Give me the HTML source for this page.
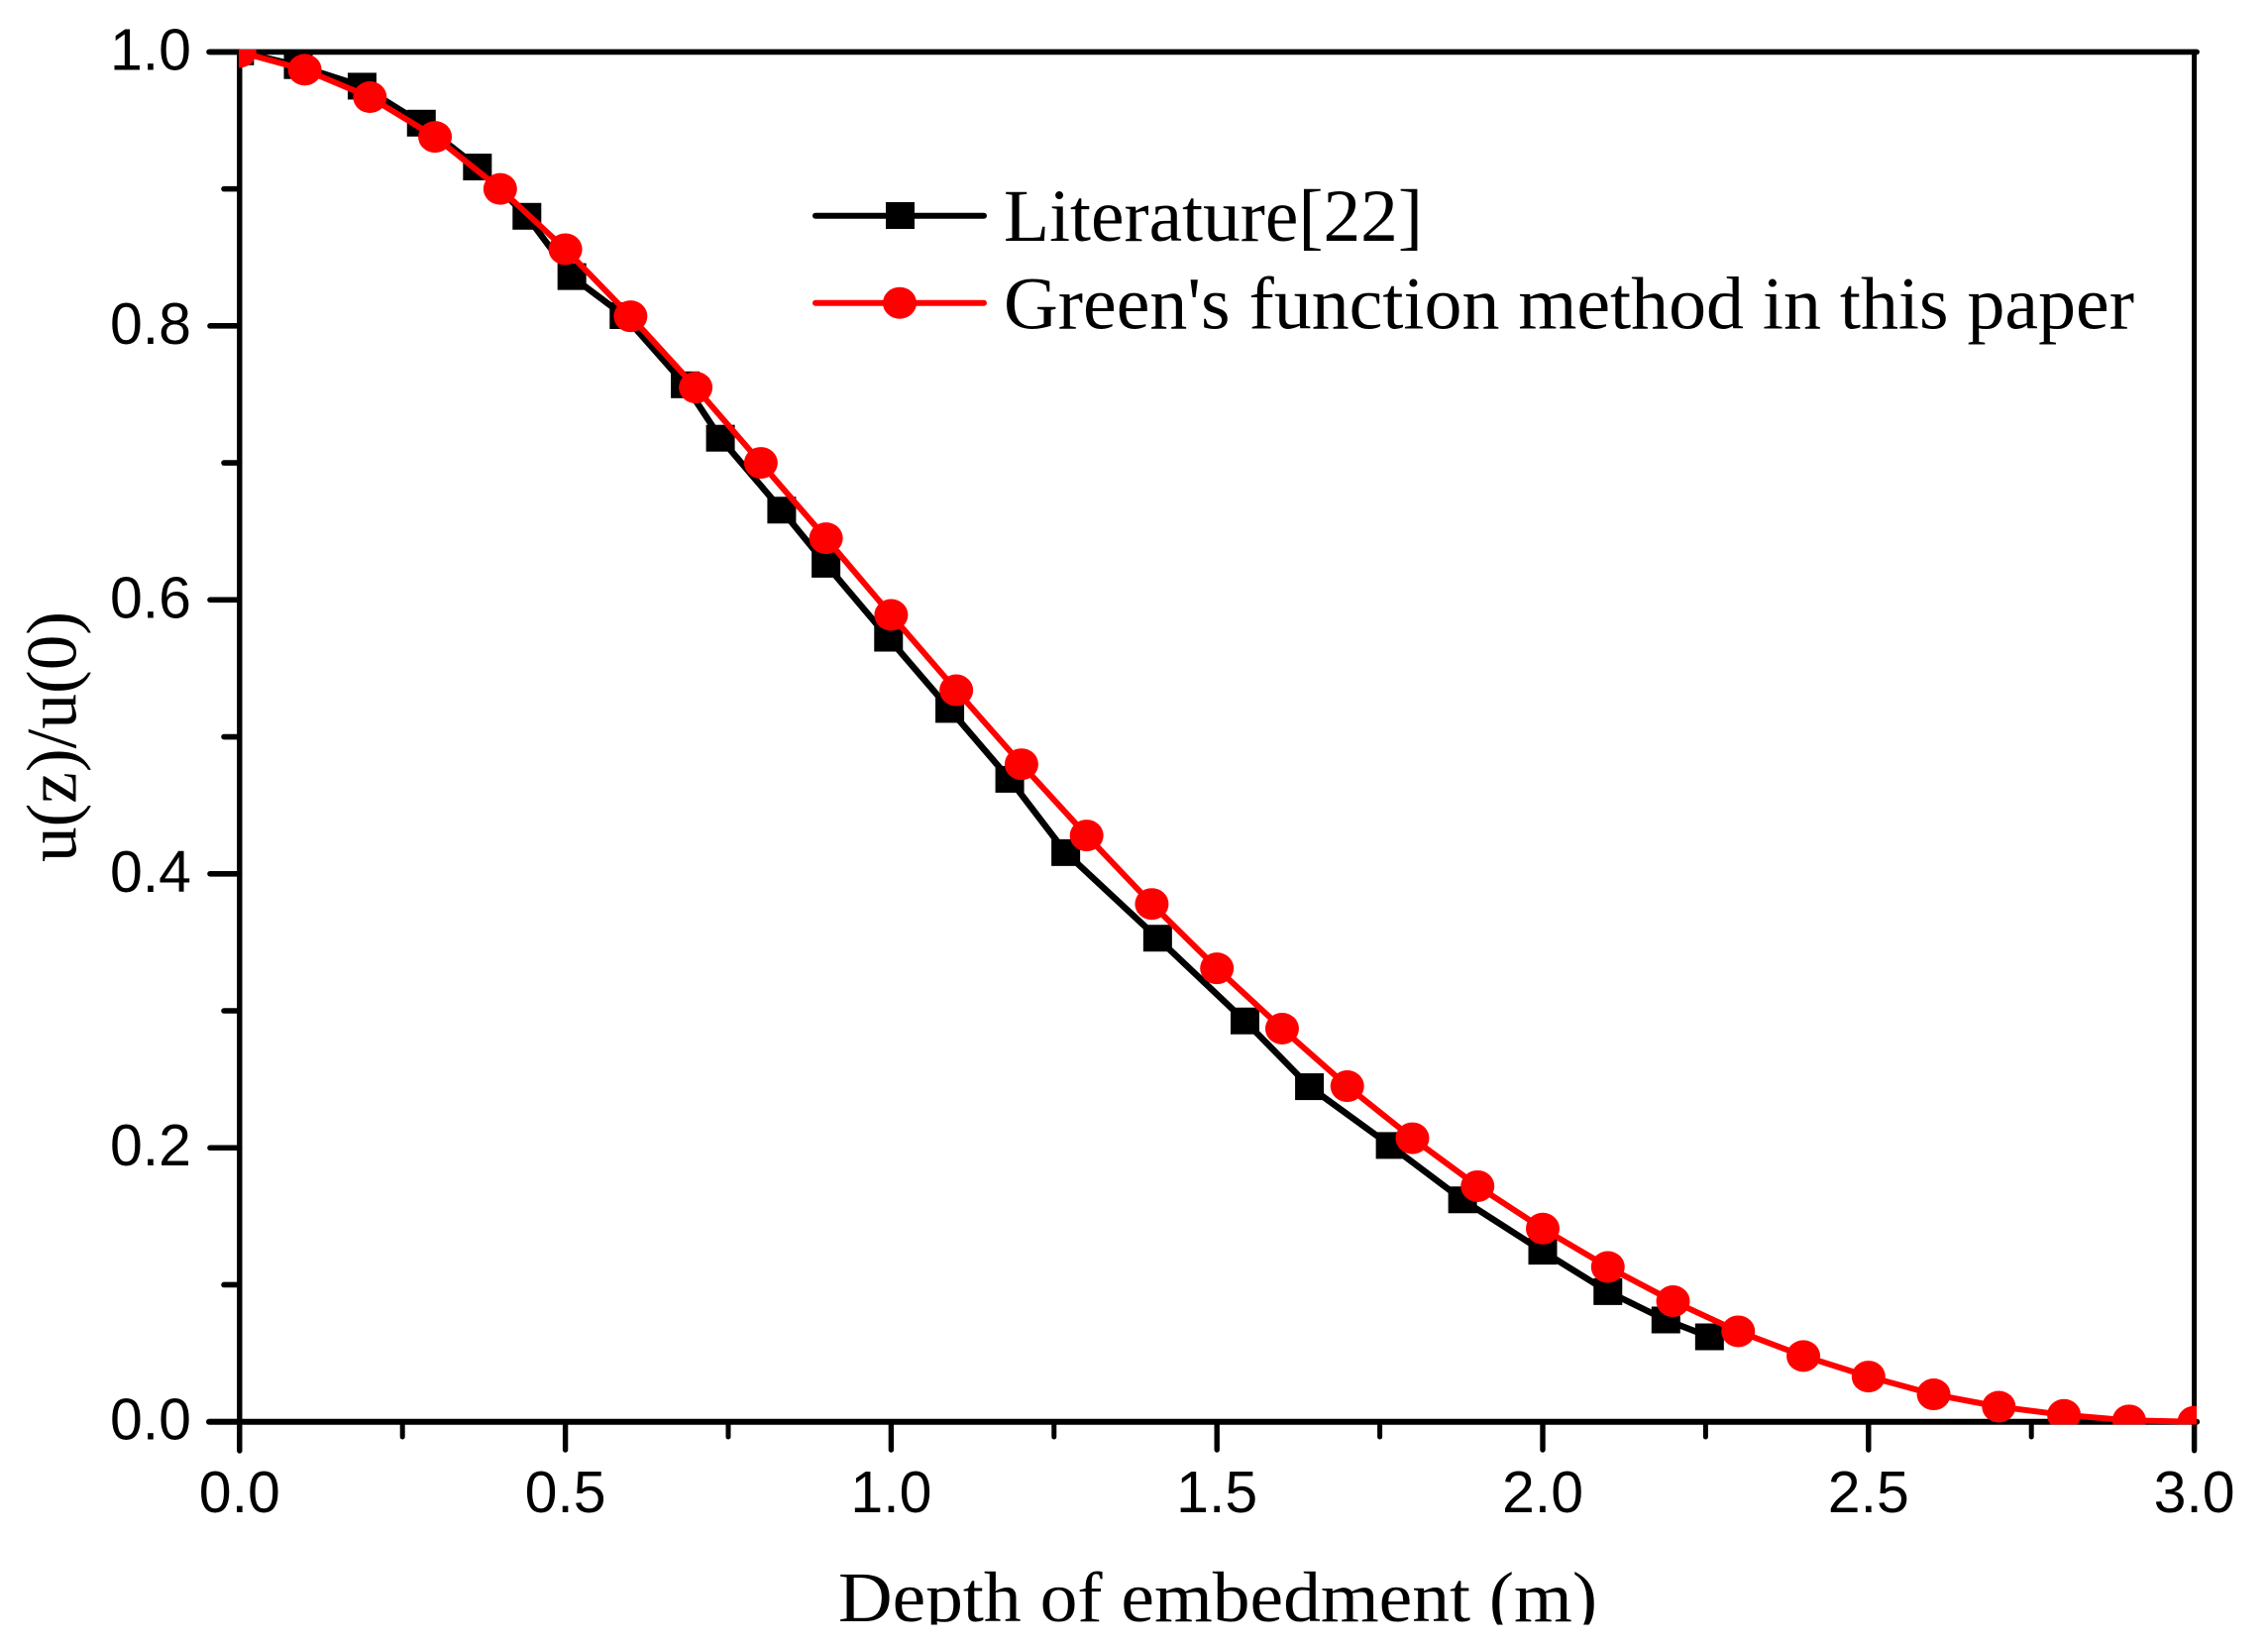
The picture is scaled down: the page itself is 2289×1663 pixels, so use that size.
<!DOCTYPE html>
<html>
<head>
<meta charset="utf-8">
<title>Depth of embedment chart</title>
<style>
html,body{margin:0;padding:0;background:#fff;}
svg{display:block;}
.tick{font-family:"Liberation Sans",sans-serif;font-size:59px;fill:#000;}
.serif{font-family:"Liberation Serif",serif;fill:#000;}
</style>
</head>
<body>
<svg id="chart" xmlns="http://www.w3.org/2000/svg" width="2289" height="1663" viewBox="0 0 2289 1663">
<defs>
<clipPath id="plot-clip"><rect x="241" y="50" width="1976" height="1387.5"></rect></clipPath>
<clipPath id="title-clip"><rect x="700" y="1540" width="1100" height="99.5"></rect></clipPath>
</defs>
<rect x="0" y="0" width="2289" height="1663" fill="#fff"></rect>
<g id="axes"></g>
<g id="series" clip-path="url(#plot-clip)"></g>
<g clip-path="url(#title-clip)">
<text class="serif" x="846" y="1636" font-size="72" textLength="766" lengthAdjust="spacingAndGlyphs">Depth of embedment (m)</text>
</g>
<text class="serif" transform="translate(76.7,870) rotate(-90)" x="0" y="0" font-size="72" textLength="253" lengthAdjust="spacingAndGlyphs">u(z)/u(0)</text>
<g>
<g>
<line x1="823" y1="217.7" x2="993" y2="217.7" stroke="#000" stroke-width="6" stroke-linecap="round"></line>
<rect x="894" y="204" width="29" height="27" fill="#000"></rect>
<text class="serif" x="1013" y="243" font-size="75" textLength="423" lengthAdjust="spacingAndGlyphs">Literature[22]</text>
</g>
<g>
<line x1="823" y1="305.7" x2="993" y2="305.7" stroke="#f00" stroke-width="6" stroke-linecap="round"></line>
<ellipse cx="908" cy="305.7" rx="17" ry="16" fill="#f00"></ellipse>
<text class="serif" x="1013" y="331.7" font-size="75" textLength="1141" lengthAdjust="spacingAndGlyphs">Green's function method in this paper</text>
</g>
</g>
</svg>
<script>
var xTickValues = [0, 0.5, 1, 1.5, 2, 2.5, 3];
var xTickLabels = ["0.0", "0.5", "1.0", "1.5", "2.0", "2.5", "3.0"];
var xMinorTicks = [0.25, 0.75, 1.25, 1.75, 2.25, 2.75];
var yTickValues = [0, 0.2, 0.4, 0.6, 0.8, 1];
var yTickLabels = ["0.0", "0.2", "0.4", "0.6", "0.8", "1.0"];
var yMinorTicks = [0.1, 0.3, 0.5, 0.7, 0.9];

var literatureX = [0, 0.09, 0.188, 0.279, 0.365, 0.441, 0.51, 0.59, 0.684, 0.738, 0.832, 0.9, 0.996, 1.09, 1.182, 1.268, 1.409, 1.543, 1.642, 1.766, 1.877, 2.0, 2.1, 2.189, 2.256];
var literatureY = [1.0, 0.99, 0.975, 0.948, 0.916, 0.88, 0.836, 0.8075, 0.757, 0.718, 0.6655, 0.626, 0.572, 0.52, 0.469, 0.4155, 0.353, 0.2926, 0.2446, 0.2017, 0.162, 0.1245, 0.095, 0.0743, 0.062];

var greenX = [0, 0.1, 0.2, 0.3, 0.4, 0.5, 0.6, 0.7, 0.8, 0.9, 1.0, 1.1, 1.2, 1.3, 1.4, 1.5, 1.6, 1.7, 1.8, 1.9, 2.0, 2.1, 2.2, 2.3, 2.4, 2.5, 2.6, 2.7, 2.8, 2.9, 3.0];
var greenY = [1.0, 0.987, 0.967, 0.938, 0.9, 0.856, 0.807, 0.755, 0.7, 0.645, 0.589, 0.534, 0.48, 0.428, 0.378, 0.331, 0.287, 0.245, 0.207, 0.172, 0.141, 0.113, 0.088, 0.066, 0.048, 0.033, 0.02, 0.011, 0.005, 0.001, 0];

var NS = 'http://www.w3.org/2000/svg';
var xLeft = 241.8, xRight = 2214.6, yBottom = 1434.7, yTop = 52.4;
function xScale(v) { return xLeft + (xRight - xLeft) * v / 3; }
function yScale(v) { return yBottom - (yBottom - yTop) * v; }
function make(tag, attrs, parent) {
  var el = document.createElementNS(NS, tag);
  for (var k in attrs) { el.setAttribute(k, attrs[k]); }
  parent.appendChild(el);
  return el;
}
var axes = document.getElementById('axes');
var series = document.getElementById('series');

var frameTop = make('line', {x1: 211, y1: yTop, x2: xRight + 2.5, y2: yTop, stroke: '#000', 'stroke-width': 5.6, 'stroke-linecap': 'round'}, axes);


var frameRight = make('line', {x1: xRight, y1: yTop, x2: xRight, y2: 1464, stroke: '#000', 'stroke-width': 5, 'stroke-linecap': 'round'}, axes);


var frameLeft = make('line', {x1: xLeft, y1: yTop, x2: xLeft, y2: 1464, stroke: '#000', 'stroke-width': 5.4, 'stroke-linecap': 'round'}, axes);


var frameBottom = make('line', {x1: 211, y1: yBottom, x2: xRight + 2.5, y2: yBottom, stroke: '#000', 'stroke-width': 6, 'stroke-linecap': 'round'}, axes);



xTickValues.forEach(function (v, i) {
  var px = xScale(v);
  var t = make('line', {x1: px, y1: yBottom, x2: px, y2: 1463, stroke: '#000', 'stroke-width': 5.4, 'stroke-linecap': 'round'}, axes);
  
  
  var lab = make('text', {x: px, y: 1526, 'text-anchor': 'middle', 'class': 'tick'}, axes);
  lab.textContent = xTickLabels[i];
  
  
});
xMinorTicks.forEach(function (v) {
  var px = xScale(v);
  var t = make('line', {x1: px, y1: yBottom, x2: px, y2: 1450, stroke: '#000', 'stroke-width': 5, 'stroke-linecap': 'round'}, axes);
  
  
});
yTickValues.forEach(function (v, i) {
  var py = yScale(v);
  var t = make('line', {x1: 212, y1: py, x2: xLeft, y2: py, stroke: '#000', 'stroke-width': 5.6, 'stroke-linecap': 'round'}, axes);
  
  
  var lab = make('text', {x: 193, y: py + 18, 'text-anchor': 'end', 'class': 'tick'}, axes);
  lab.textContent = yTickLabels[i];
  
  
});
yMinorTicks.forEach(function (v) {
  var py = yScale(v);
  var t = make('line', {x1: 226, y1: py, x2: xLeft, y2: py, stroke: '#000', 'stroke-width': 5.6, 'stroke-linecap': 'round'}, axes);
  
  
});

function linePoints(xs, ys) {
  return xs.map(function (v, i) { return xScale(v).toFixed(2) + ',' + yScale(ys[i]).toFixed(2); }).join(' ');
}
var litLine = make('polyline', {points: linePoints(literatureX, literatureY), fill: 'none', stroke: '#000', 'stroke-width': 6.5, 'stroke-linejoin': 'round'}, series);


literatureX.forEach(function (v, i) {
  var m = make('rect', {x: xScale(v) - 14.5, y: yScale(literatureY[i]) - 13.5, width: 29, height: 27, fill: '#000'}, series);
  
  
});
var greenLine = make('polyline', {points: linePoints(greenX, greenY), fill: 'none', stroke: '#f00', 'stroke-width': 6, 'stroke-linejoin': 'round'}, series);


greenX.forEach(function (v, i) {
  var m = make('ellipse', {cx: xScale(v), cy: yScale(greenY[i]), rx: 17, ry: 16, fill: '#f00'}, series);
  
  
});
</script>
</body>
</html>
